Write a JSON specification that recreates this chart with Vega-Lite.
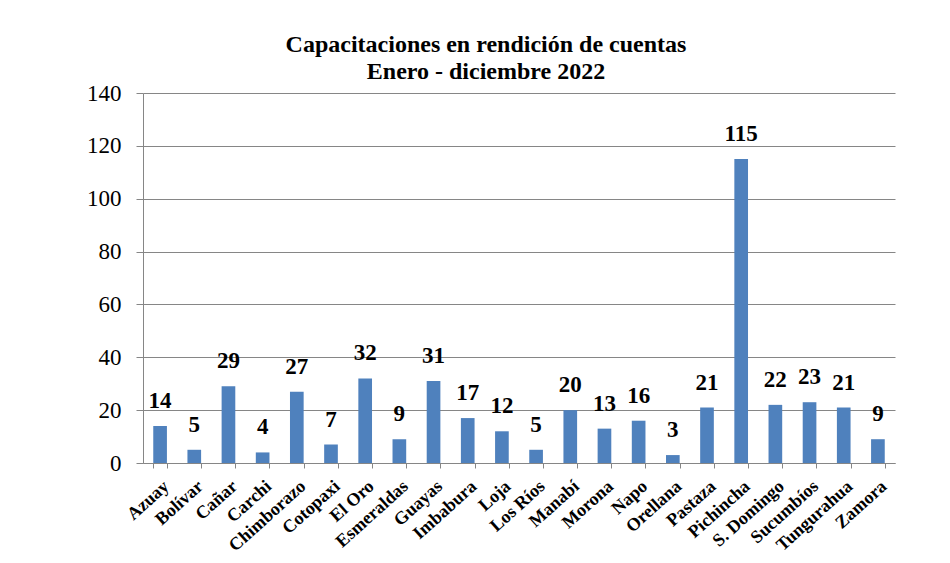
{
  "$schema": "https://vega.github.io/schema/vega-lite/v6.json",
  "width": 752,
  "height": 370,
  "autosize": {"type": "none"},
  "padding": {"left": 143, "top": 93, "right": 55, "bottom": 100},
  "background": "white",
  "title": {
    "text": ["Capacitaciones en rendición de cuentas", "Enero - diciembre 2022"],
    "font": "Liberation Serif",
    "fontSize": 24,
    "fontWeight": "bold",
    "color": "black",
    "anchor": "middle",
    "dx": -33,
    "offset": -2,
    "lineHeight": 27
  },
  "data": {
    "values": [
      {"provincia": "Azuay", "valor": 14},
      {"provincia": "Bolívar", "valor": 5},
      {"provincia": "Cañar", "valor": 29},
      {"provincia": "Carchi", "valor": 4},
      {"provincia": "Chimborazo", "valor": 27},
      {"provincia": "Cotopaxi", "valor": 7},
      {"provincia": "El Oro", "valor": 32},
      {"provincia": "Esmeraldas", "valor": 9},
      {"provincia": "Guayas", "valor": 31},
      {"provincia": "Imbabura", "valor": 17},
      {"provincia": "Loja", "valor": 12},
      {"provincia": "Los Ríos", "valor": 5},
      {"provincia": "Manabí", "valor": 20},
      {"provincia": "Morona", "valor": 13},
      {"provincia": "Napo", "valor": 16},
      {"provincia": "Orellana", "valor": 3},
      {"provincia": "Pastaza", "valor": 21},
      {"provincia": "Pichincha", "valor": 115},
      {"provincia": "S. Domingo", "valor": 22},
      {"provincia": "Sucumbíos", "valor": 23},
      {"provincia": "Tungurahua", "valor": 21},
      {"provincia": "Zamora", "valor": 9}
    ]
  },
  "encoding": {
    "x": {
      "field": "provincia",
      "type": "nominal",
      "sort": null,
      "title": null,
      "scale": {"paddingInner": 0.6, "paddingOuter": 0.3},
      "axis": {
        "labelAngle": -42,
        "labelFont": "Liberation Serif",
        "labelFontSize": 18,
        "labelFontWeight": "bold",
        "labelColor": "black",
        "labelPadding": 9,
        "labelOverlap": false,
        "tickBand": "extent",
        "tickSize": 5,
        "tickColor": "#868686",
        "domainColor": "#868686",
        "grid": false
      }
    },
    "y": {
      "field": "valor",
      "type": "quantitative",
      "title": null,
      "scale": {"domain": [0, 140]},
      "axis": {
        "values": [0, 20, 40, 60, 80, 100, 120, 140],
        "labelFont": "Liberation Serif",
        "labelFontSize": 23,
        "labelColor": "black",
        "labelPadding": 15,
        "tickSize": 7,
        "tickColor": "#868686",
        "domainColor": "#868686",
        "gridColor": "#868686",
        "grid": true
      }
    }
  },
  "layer": [
    {"mark": {"type": "bar", "color": "#4F81BD"}},
    {
      "mark": {
        "type": "text",
        "font": "Liberation Serif",
        "fontSize": 23,
        "fontWeight": "bold",
        "color": "black",
        "baseline": "alphabetic",
        "dy": -18
      },
      "encoding": {"text": {"field": "valor", "type": "quantitative"}}
    }
  ],
  "config": {"view": {"stroke": null}}
}
